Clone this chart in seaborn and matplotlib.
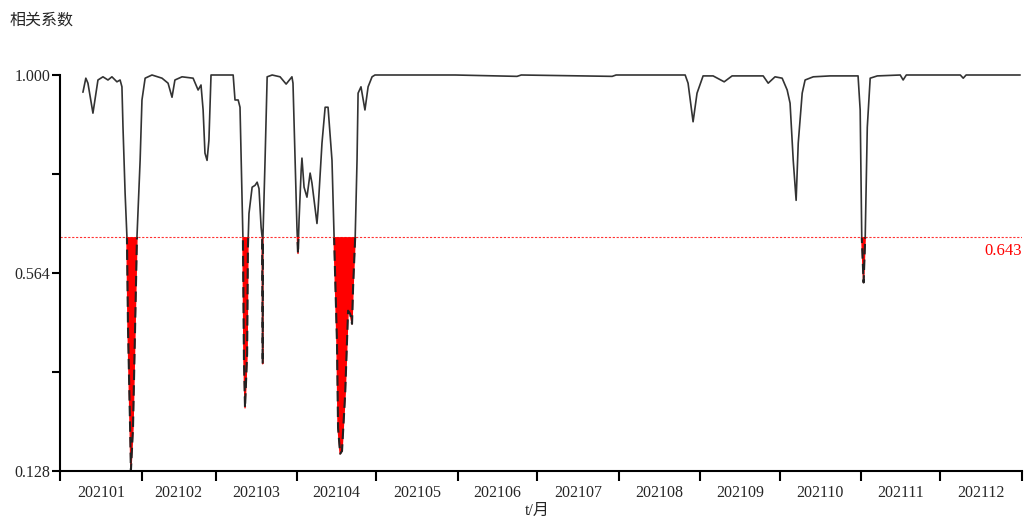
import numpy as np
import pandas as pd
import matplotlib
matplotlib.use('Agg')
import matplotlib.pyplot as plt
from matplotlib.patches import Rectangle
import seaborn as sns

# day of year 2021 (0 = Jan 1) and correlation coefficient
days = [8.7, 9.8, 10.6, 12.5, 14.4, 16.3, 18.2, 19.7, 21.6, 22.8, 23.5, 23.9, 24.7, 25.4, 25.8,
        26.6, 26.9, 27.7, 28.5, 29.2, 30.4, 31.1, 32.3, 34.9, 38.7, 41.0, 42.5, 43.6, 46.3, 50.5,
        52.4, 53.5, 53.9, 54.3, 55.0, 55.8, 56.5, 57.3, 65.7, 66.4, 67.6, 68.3, 69.1, 69.4, 69.8,
        70.2, 71.0, 71.3, 71.7, 72.9, 74.0, 74.8, 75.5, 76.3, 76.7, 76.9, 77.0, 77.8, 78.6, 80.5,
        83.5, 85.8, 88.0, 88.4, 89.2, 89.9, 90.3, 90.7, 91.5, 91.8, 92.6, 93.7, 94.9, 95.6, 97.5,
        97.9, 99.4, 100.6, 101.7, 103.2, 104.0, 105.1, 105.5, 106.3, 107.0, 108.2, 109.3, 110.1,
        110.8, 111.2, 112.0, 112.7, 113.1, 114.2, 115.7, 116.9, 118.4, 119.5, 150.0, 173.4, 175.0,
        209.5, 211.0, 237.2, 238.3, 240.2, 241.7, 244.0, 247.8, 252.0, 255.0, 266.8, 268.7, 271.3,
        274.0, 275.9, 277.0, 278.2, 279.3, 280.1, 281.6, 282.7, 285.8, 292.2, 302.8, 303.6, 304.2,
        304.9, 305.5, 306.3, 307.4, 310.1, 318.8, 319.9, 321.1, 341.6, 342.7, 343.8, 364.3]
corr = [0.962, 0.993, 0.982, 0.916, 0.989, 0.996, 0.989, 0.996, 0.985, 0.989, 0.974, 0.885, 0.740,
        0.643, 0.444, 0.223, 0.128, 0.223, 0.444, 0.643, 0.812, 0.945, 0.993, 1.000, 0.993, 0.982,
        0.951, 0.989, 0.996, 0.993, 0.967, 0.978, 0.951, 0.923, 0.828, 0.812, 0.856, 1.000, 1.000,
        0.945, 0.945, 0.929, 0.717, 0.643, 0.371, 0.267, 0.386, 0.620, 0.695, 0.753, 0.757, 0.764,
        0.750, 0.665, 0.643, 0.364, 0.643, 0.812, 0.996, 1.000, 0.996, 0.980, 0.996, 0.982, 0.812,
        0.665, 0.607, 0.680, 0.790, 0.817, 0.753, 0.731, 0.784, 0.762, 0.673, 0.702, 0.850, 0.929,
        0.929, 0.812, 0.643, 0.408, 0.223, 0.166, 0.172, 0.298, 0.481, 0.474, 0.452, 0.532, 0.643,
        0.812, 0.960, 0.974, 0.923, 0.974, 0.996, 1.000, 1.000, 0.997, 1.000, 0.997, 1.000, 1.000,
        0.982, 0.897, 0.960, 0.998, 0.998, 0.985, 0.998, 0.998, 0.982, 0.996, 0.993, 0.967, 0.938,
        0.812, 0.724, 0.850, 0.960, 0.989, 0.996, 0.998, 0.998, 0.923, 0.643, 0.543, 0.640, 0.885,
        0.993, 0.998, 1.000, 0.989, 1.000, 1.000, 0.993, 1.000, 1.000]

threshold = 0.643
month_starts = [0, 31, 59, 90, 120, 151, 181, 212, 243, 273, 304, 334, 365]
month_labels = ['202101', '202102', '202103', '202104', '202105', '202106',
                '202107', '202108', '202109', '202110', '202111', '202112']
y_ticks = [0.128, 0.564, 1.000]

df = pd.DataFrame({'day': days, 'corr': corr})

sns.set_style('ticks')
plt.rcParams['font.family'] = ['Liberation Serif', 'Noto Sans CJK SC']

fig = plt.figure(figsize=(10.27, 5.18), dpi=100)
ax = fig.add_axes([60 / 1027, 1 - 471 / 518, 962 / 1027, 396 / 518])

x = df['day'].values
y = df['corr'].values
ax.fill_between(x, y, threshold, where=y < threshold, interpolate=True, color='red', lw=0)

above = Rectangle((0, threshold), 400, 2, transform=ax.transData)
below = Rectangle((0, -1), 400, 1 + threshold, transform=ax.transData)

# solid line above the threshold, red + dashed black below it
sns.lineplot(data=df, x='day', y='corr', color='#333333', lw=1.2, ax=ax)
ax.lines[-1].set_clip_path(above)
sns.lineplot(data=df, x='day', y='corr', color='red', lw=1.0, ax=ax)
ax.lines[-1].set_clip_path(below)
sns.lineplot(data=df, x='day', y='corr', color='#222222', lw=1.5, ax=ax)
ax.lines[-1].set_clip_path(below)
ax.lines[-1].set_dashes([5, 2.5])

ax.axhline(threshold, color='red', lw=0.8, ls=(0, (2, 1.5)), alpha=0.8)
ax.text(365, threshold - 0.012, '%.3f' % threshold, color='red', fontsize=12,
        ha='right', va='top')

ax.set_xlim(0, 365)
ax.set_ylim(0.128, 1.0)
ax.set_xticks(month_starts)
ax.set_xticklabels([])
ax.set_xticks([(a + b) / 2 for a, b in zip(month_starts[:-1], month_starts[1:])], minor=True)
ax.set_xticklabels(month_labels, minor=True, fontsize=11.5)
ax.tick_params(axis='x', which='major', length=7, width=1.5, color='black')
ax.tick_params(axis='x', which='minor', length=0, pad=10)
ax.set_yticks(y_ticks)
ax.set_yticklabels(['%.3f' % v for v in y_ticks], fontsize=11.5)
ax.set_yticks([0.346, 0.782], minor=True)
ax.tick_params(axis='y', which='both', length=6, width=1.5, color='black', pad=1)
ax.set_xlabel('')
ax.set_ylabel('')

sns.despine(ax=ax)
for s in ['left', 'bottom']:
    ax.spines[s].set_linewidth(1.5)
    ax.spines[s].set_color('black')

fig.text(10 / 1027, 1 - 20 / 518, '相关系数', fontsize=11.5, va='center', ha='left',
         family=['Noto Sans CJK SC'])
fig.text(537 / 1027, 1 - 511 / 518, 't/月', fontsize=11.5, va='center', ha='center',
         family=['Liberation Serif', 'Noto Sans CJK SC'])

fig.savefig('out.png', dpi=100)
